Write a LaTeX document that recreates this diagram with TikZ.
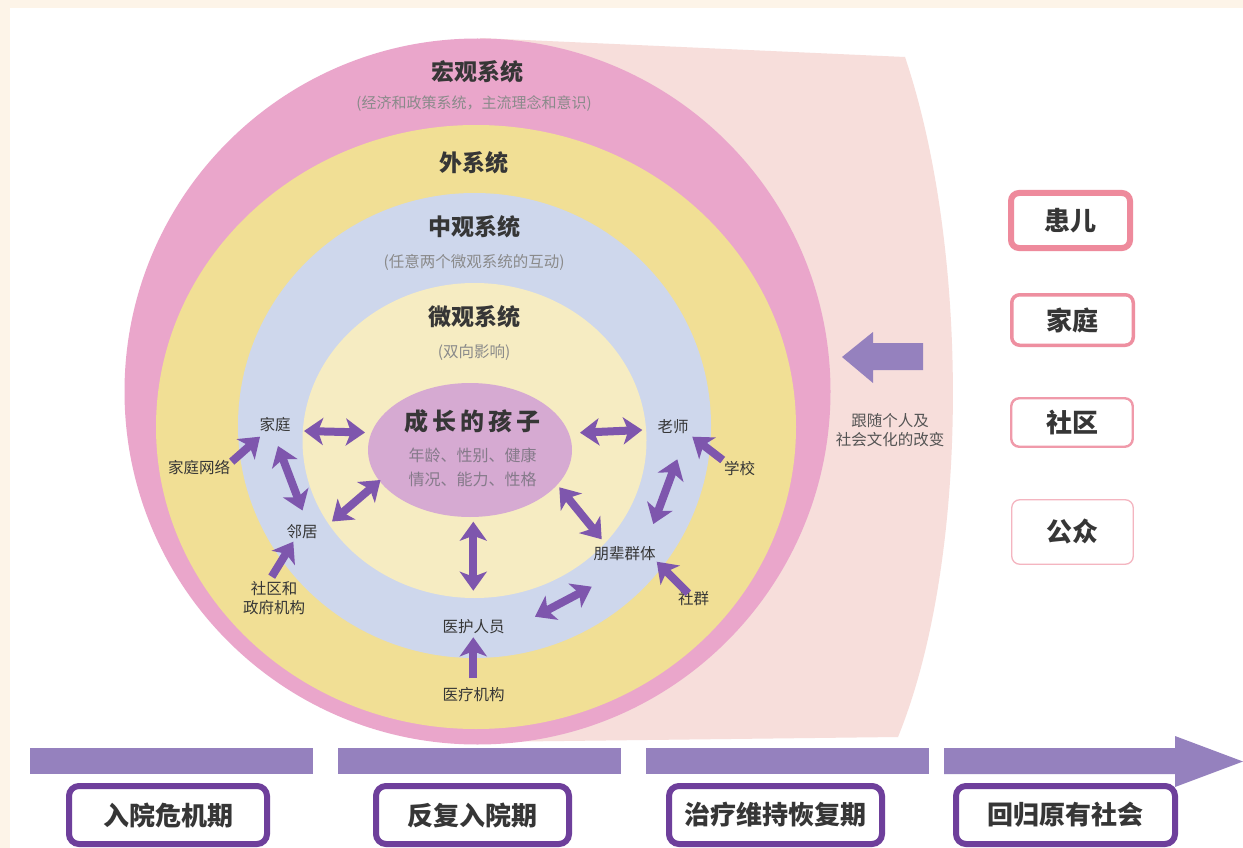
\documentclass[tikz,border=0pt]{standalone}
\usepackage{fontspec}
\setmainfont{Noto Sans CJK SC}
\usetikzlibrary{arrows.meta,shapes.geometric}
\definecolor{bgcream}{HTML}{FDF4E8}
\definecolor{pinkO}{HTML}{EAA6CB}
\definecolor{yel}{HTML}{F1DF95}
\definecolor{blu}{HTML}{CED7EC}
\definecolor{lyel}{HTML}{F6ECC2}
\definecolor{childc}{HTML}{D6AAD2}
\definecolor{pale}{HTML}{F7DEDB}
\definecolor{arrowP}{HTML}{7E56AD}
\definecolor{barP}{HTML}{9581BE}
\definecolor{boxP}{HTML}{6E3F9B}
\definecolor{txt}{HTML}{363636}
\definecolor{subc}{HTML}{8A8A8A}
\definecolor{childsub}{HTML}{857A8A}
\begin{document}
\begin{tikzpicture}[x=1pt,y=-1pt,
  title/.style={font=\fontsize{23}{26}\selectfont\bfseries, text=txt, inner sep=0pt},
  subt/.style={font=\fontsize{15.5}{18}\selectfont, text=subc, inner sep=0pt},
  lab/.style={font=\fontsize{15.5}{19}\selectfont, text=txt, inner sep=0pt, align=center},
  dblarrow/.style={draw=arrowP, line width=8pt, {Stealth[length=19pt,width=27pt,inset=5pt]}-{Stealth[length=19pt,width=27pt,inset=5pt]}},
  sglarrow/.style={draw=arrowP, line width=8pt, -{Stealth[length=19pt,width=27pt,inset=5pt]}},
  rolebox/.style={fill=white, rounded corners=8pt, minimum width=119pt, inner sep=0pt, font=\fontsize{26}{30}\selectfont\bfseries, text=txt},
  stagebox/.style={draw=boxP, line width=6pt, fill=white, rounded corners=10pt, minimum height=58pt, inner sep=0pt, font=\fontsize{26}{30}\selectfont\bfseries, text=txt}
]
\useasboundingbox (0,0) rectangle (1243,848);
\fill[bgcream] (0,0) rectangle (1243,848);
\fill[white] (10,8) rectangle (1243,848);
% trailing pale region
\fill[pale] (480,38) -- (905,57) .. controls (970,250) and (970,560) .. (898,737) -- (480,742) -- cycle;
% nested systems
\fill[pinkO] (477.5,391.5) circle [radius=353pt];
\fill[yel] (476,427) ellipse [x radius=320pt, y radius=302pt];
\fill[blu] (474.5,425.5) ellipse [x radius=236.5pt, y radius=232.5pt];
\fill[lyel] (474.5,440.5) ellipse [x radius=172pt, y radius=157.5pt];
\node[ellipse, fill=childc, minimum width=204pt, minimum height=134pt, inner sep=0pt] (child) at (470,450) {};

% system titles
\node[title] (macro) at (477,72) {宏观系统};
\node[subt, font=\fontsize{15}{18}\selectfont] (macros) at (474,104) {(经济和政策系统，主流理念和意识)};
\node[title] (exo) at (474,163) {外系统};
\node[title] (meso) at (474,227) {中观系统};
\node[subt] (mesos) at (474,262) {(任意两个微观系统的互动)};
\node[title] (micro) at (474,317) {微观系统};
\node[subt] (micros) at (474,352) {(双向影响)};
\node[title, font=\fontsize{24}{27}\selectfont\bfseries] (childt) at (472.5,421) {成\hspace{4pt}长\hspace{4pt}的\hspace{4pt}孩\hspace{4pt}子};
\node[subt, text=childsub, font=\fontsize{16}{19}\selectfont] (childa) at (472.5,455) {年龄、性别、健康};
\node[subt, text=childsub, font=\fontsize{16}{19}\selectfont] (childb) at (472.5,479) {情况、能力、性格};

% microsystem / exosystem labels
\node[lab] (fam) at (275,425) {家庭};
\node[lab] (famnet) at (199,468) {家庭网络};
\node[lab] (nb) at (302,532) {邻居};
\node[lab] (comm) at (274,598) {社区和\\政府机构};
\node[lab] (med) at (473.5,627) {医护人员};
\node[lab] (hosp) at (473.5,695) {医疗机构};
\node[lab] (peer) at (624.5,553.5) {朋辈群体};
\node[lab] (soc) at (693.5,598.5) {社群};
\node[lab] (teach) at (673,427) {老师};
\node[lab] (school) at (739.5,468.5) {学校};

% arrow end points
\coordinate (a1s) at (304,431);     \coordinate (a1e) at (365,432.5);
\coordinate (a2s) at (278,446);     \coordinate (a2e) at (302.5,510.5);
\coordinate (a3s) at (332,521.5);   \coordinate (a3e) at (380.5,480);
\coordinate (a4s) at (473.3,521.7); \coordinate (a4e) at (473.3,590.7);
\coordinate (a5s) at (535,616.7);   \coordinate (a5e) at (591.7,586.7);
\coordinate (a6s) at (559.3,487.3); \coordinate (a6e) at (601.7,539.3);
\coordinate (a7s) at (580,432.7);   \coordinate (a7e) at (642.3,430);
\coordinate (a8s) at (677.3,459.3); \coordinate (a8e) at (653.3,524);
\coordinate (s9s) at (231.7,461.7); \coordinate (s9e) at (260,436.7);
\coordinate (s10s) at (271.7,576.7);\coordinate (s10e) at (293.3,541.7);
\coordinate (s11s) at (473.3,678.3);\coordinate (s11e) at (473.3,637.3);
\coordinate (s12s) at (688.3,593.3);\coordinate (s12e) at (656.7,561.7);
\coordinate (s13s) at (722.7,460);  \coordinate (s13e) at (692.3,436.7);

\draw[dblarrow] (a1s) -- (a1e);
\draw[dblarrow] (a2s) -- (a2e);
\draw[dblarrow] (a3s) -- (a3e);
\draw[dblarrow] (a4s) -- (a4e);
\draw[dblarrow] (a5s) -- (a5e);
\draw[dblarrow] (a6s) -- (a6e);
\draw[dblarrow] (a7s) -- (a7e);
\draw[dblarrow] (a8s) -- (a8e);
\draw[sglarrow] (s9s) -- (s9e);
\draw[sglarrow] (s10s) -- (s10e);
\draw[sglarrow] (s11s) -- (s11e);
\draw[sglarrow] (s12s) -- (s12e);
\draw[sglarrow] (s13s) -- (s13e);

% change arrow and caption
\fill[barP] (842,357) -- (873,332) -- (873,343) -- (923,343) -- (923,370) -- (873,370) -- (873,383) -- cycle;
\node[lab, text=txt!85] (chg) at (890,430.5) {跟随个人及\\社会文化的改变};

% role boxes
\node[rolebox, draw={rgb,255:red,238;green,138;blue,156}, line width=6pt, minimum height=55pt] (r1) at (1070.5,220.5) {患儿};
\node[rolebox, draw={rgb,255:red,238;green,143;blue,160}, line width=3.5pt, minimum height=50.5pt, minimum width=121.5pt] (r2) at (1072.5,320) {家庭};
\node[rolebox, draw={rgb,255:red,240;green,154;blue,170}, line width=2.4pt, minimum height=48.5pt, minimum width=121.5pt] (r3) at (1072,422.5) {社区};
\node[rolebox, draw={rgb,255:red,244;green,181;blue,192}, line width=1.3pt, minimum height=64.5pt, minimum width=121.5pt] (r4) at (1072.5,532) {公众};

% timeline bars
\fill[barP] (30,748) rectangle (313,774);
\fill[barP] (338,748) rectangle (621,774);
\fill[barP] (646,748) rectangle (929,774);
\fill[barP] (944,748) -- (1175,748) -- (1175,736) -- (1243,761.5) -- (1175,787) -- (1175,774) -- (944,774) -- cycle;

% stage boxes
\node[stagebox, minimum width=198pt] (st1) at (168,815) {入院危机期};
\node[stagebox, minimum width=193pt] (st2) at (472.5,815) {反复入院期};
\node[stagebox, minimum width=213pt] (st3) at (775.5,815) {治疗维持恢复期};
\node[stagebox, minimum width=219pt] (st4) at (1065.5,815) {回归原有社会};
\end{tikzpicture}
\end{document}
